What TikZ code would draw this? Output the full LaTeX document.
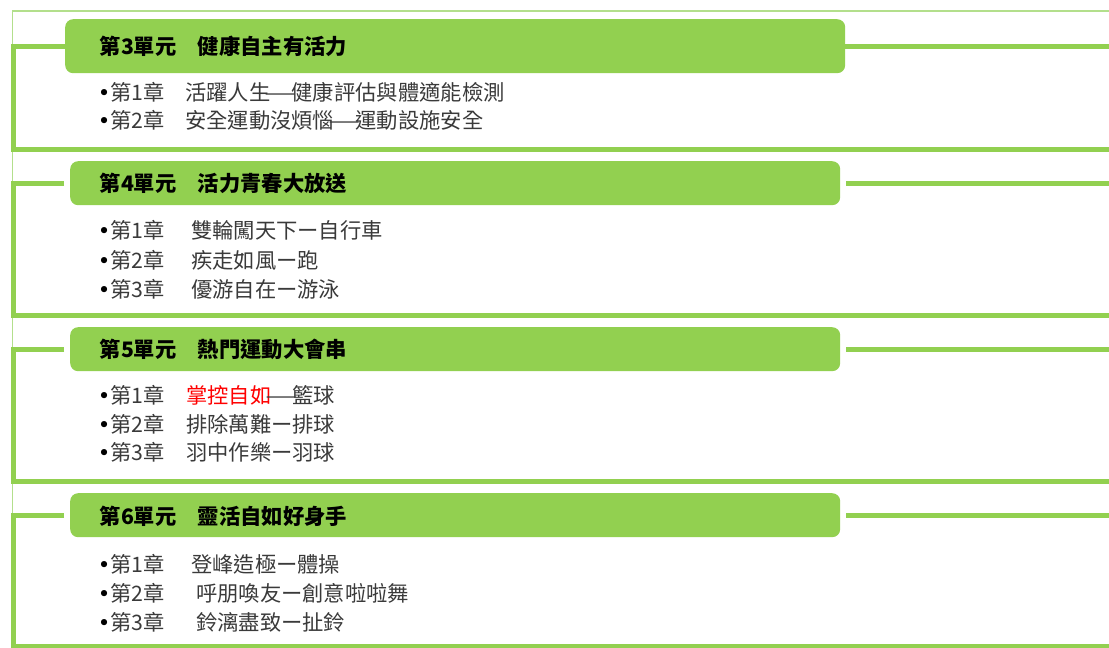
\documentclass[tikz,border=0pt]{standalone}
\usepackage{fontspec}
\setmainfont{Noto Sans CJK TC}
\newfontfamily\dvs{DejaVu Sans}
\definecolor{lg}{HTML}{92D050}
\definecolor{lgthin}{HTML}{B3DF8C}
\definecolor{txt}{HTML}{3A3A3A}
\newcommand{\emd}{\makebox[1em][c]{\scalebox{1.7}[1]{—}}}
\newcommand{\bult}{\makebox[12pt][c]{\textcolor{black}{\dvs •}}}
\begin{document}
\begin{tikzpicture}[x=1pt,y=-1pt,
  hdr/.style={fill=lg, draw=none, rounded corners=8pt, minimum width=770pt, minimum height=44pt, anchor=north west, inner sep=0pt},
  brk/.style={draw=lg, line width=5pt},
  thinl/.style={draw=lgthin, line width=1.6pt},
  htext/.style={anchor=base west, inner sep=0pt, font=\bfseries\fontsize{21.3}{22}\selectfont, text=black},
  itext/.style={anchor=base west, inner sep=0pt, font=\fontsize{21.3}{22}\selectfont, text=txt}]
\useasboundingbox (0,0) rectangle (1109,648);

% ---------- header boxes ----------
\node[hdr, minimum width=780pt, minimum height=54pt] (h1) at (65,19) {};
\node[hdr] (h2) at (70,161) {};
\node[hdr] (h3) at (70,327) {};
\node[hdr] (h4) at (70,493) {};

% ---------- frame coordinates ----------
\coordinate (t1) at (12.5,11);
\coordinate (tr1) at (1109,11);
\coordinate (v1) at (12.5,43.5);
\coordinate (b1l) at (13,149.5);
\coordinate (b1r) at (1109,149.5);

\coordinate (t2) at (12.5,151.5);
\coordinate (v2) at (12.5,180.5);
\coordinate (b2l) at (13,315.5);
\coordinate (b2r) at (1109,315.5);

\coordinate (t3) at (12.5,317.5);
\coordinate (v3) at (12.5,346.5);
\coordinate (b3l) at (13,481.5);
\coordinate (b3r) at (1109,481.5);

\coordinate (t4) at (12.5,483.5);
\coordinate (v4) at (12.5,512.5);
\coordinate (b4l) at (13,646);
\coordinate (b4r) at (1109,646);

% ---------- frames ----------
\draw[thinl] (tr1) -- (t1) -- (v1);
\draw[brk] (h1.west) -- (h1.west -| b1l) -- (b1l) -- (b1r);
\draw[brk] (h1.east) -- (h1.east -| b1r);

\draw[thinl] (t2) -- (v2);
\draw[brk] ([xshift=-6pt]h2.west) -- (h2.west -| b2l) -- (b2l) -- (b2r);
\draw[brk] ([xshift=6pt]h2.east) -- (h2.east -| b2r);

\draw[thinl] (t3) -- (v3);
\draw[brk] ([xshift=-6pt]h3.west) -- (h3.west -| b3l) -- (b3l) -- (b3r);
\draw[brk] ([xshift=6pt]h3.east) -- (h3.east -| b3r);

\draw[thinl] (t4) -- (v4);
\draw[brk] ([xshift=-6pt]h4.west) -- (h4.west -| b4l) -- (b4l) -- (b4r);
\draw[brk] ([xshift=6pt]h4.east) -- (h4.east -| b4r);

% ---------- header texts ----------
\node[htext] (h1t) at (99.5,54.5) {第3單元　健康自主有活力};
\node[htext] (h2t) at (99.5,191.5) {第4單元　活力青春大放送};
\node[htext] (h3t) at (99.5,357.5) {第5單元　熱門運動大會串};
\node[htext] (h4t) at (99.5,524) {第6單元　靈活自如好身手};

% ---------- items ----------
% section 1
\node[itext] (s1i1) at (98,100) {\bult\makebox[75pt][l]{第1章}活躍人生\emd 健康評估與體適能檢測};
\node[itext] (s1i2) at (98,128) {\bult\makebox[75pt][l]{第2章}安全運動沒煩惱\emd 運動設施安全};
% section 2
\node[itext] (s2i1) at (98,238.5) {\bult\makebox[81pt][l]{第1章}雙輪闖天下ー自行車};
\node[itext] (s2i2) at (98,268) {\bult\makebox[81pt][l]{第2章}疾走如風ー跑};
\node[itext] (s2i3) at (98,297) {\bult\makebox[81pt][l]{第3章}優游自在ー游泳};
% section 3
\node[itext] (s3i1) at (98,403.5) {\bult\makebox[76pt][l]{第1章}\textcolor{red}{掌控自如}\emd 籃球};
\node[itext] (s3i2) at (98,432.5) {\bult\makebox[76pt][l]{第2章}排除萬難ー排球};
\node[itext] (s3i3) at (98,460.5) {\bult\makebox[76pt][l]{第3章}羽中作樂ー羽球};
% section 4
\node[itext] (s4i1) at (98,572) {\bult\makebox[81pt][l]{第1章}登峰造極ー體操};
\node[itext] (s4i2) at (98,601.5) {\bult\makebox[86pt][l]{第2章}呼朋喚友ー創意啦啦舞};
\node[itext] (s4i3) at (98,630) {\bult\makebox[86pt][l]{第3章}鈴漓盡致ー扯鈴};
\end{tikzpicture}
\end{document}
